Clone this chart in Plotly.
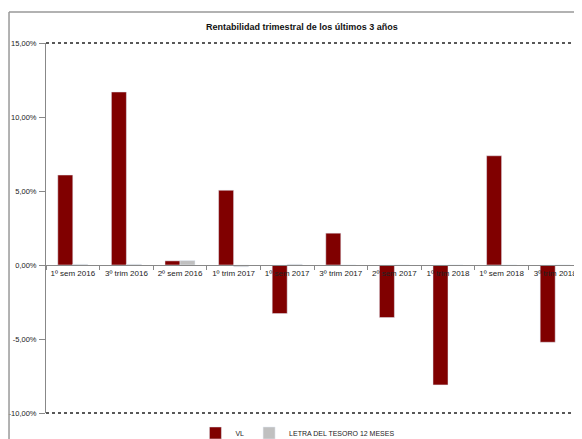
import plotly.graph_objects as go

categories = ["1º sem 2016", "3º trim 2016", "2º sem 2016", "1º trim 2017", "1º sem 2017",
              "3º trim 2017", "2º sem 2017", "1º trim 2018", "1º sem 2018", "3º trim 2018"]
vl = [6.08, 11.69, 0.28, 5.05, -3.28, 2.15, -3.55, -8.10, 7.38, -5.22]
letra = [0.05, 0.05, 0.30, -0.12, 0.05, 0.0, 0.0, 0.0, 0.0, 0.0]
y_ticks = [-10, -5, 0, 5, 10, 15]
y_tick_labels = ["-10,00%", "-5,00%", "0,00%", "5,00%", "10,00%", "15,00%"]

FONT = "Liberation Sans"

fig = go.Figure()
fig.add_trace(go.Bar(x=categories, y=vl, name="VL", marker_color="#800000"))
fig.add_trace(go.Bar(x=categories, y=letra, name="LETRA DEL TESORO 12 MESES", marker_color="#C0C0C0"))

y_min, y_max = -10, 15
zero_pos = (0 - y_min) / (y_max - y_min)

fig.update_layout(
    width=574, height=431,
    margin=dict(l=38, r=0, t=35, b=26, autoexpand=False),
    paper_bgcolor="white", plot_bgcolor="white",
    barmode="group", bargap=0.44, bargroupgap=0,
    font=dict(family=FONT, size=8, color="#222"),
    title=dict(text="<b>Rentabilidad trimestral de los últimos 3 años</b>", x=0.512, xanchor="center",
               y=0.956, yanchor="middle", font=dict(size=9, color="#111")),
    showlegend=True,
    legend=dict(orientation="h", x=0.47, xanchor="center", y=-0.054, yanchor="middle",
                font=dict(size=7, color="#222"), tracegroupgap=0),
    xaxis=dict(type="category", anchor="free", position=zero_pos, showline=True, linecolor="#888",
               linewidth=1, ticks="outside", tickson="boundaries", ticklen=4, tickcolor="#888",
               tickangle=0, showgrid=False, tickfont=dict(size=8, color="#222")),
    yaxis=dict(range=[y_min, y_max], tickvals=y_ticks, ticktext=y_tick_labels,
               showline=True, linecolor="#888", linewidth=1, ticks="outside", ticklen=6,
               tickcolor="#888", showgrid=False, zeroline=False, ticklabelstandoff=1,
               tickfont=dict(size=7.5, color="#222")),
    shapes=[
        dict(type="line", xref="paper", yref="paper", x0=0, x1=1, y0=1, y1=1,
             line=dict(color="#222", width=1.5, dash="dot")),
        dict(type="line", xref="paper", yref="paper", x0=0, x1=1, y0=0, y1=0,
             line=dict(color="#222", width=1.5, dash="dot")),
        dict(type="line", xref="paper", yref="paper", x0=-0.069, x1=1.1, y0=1.084, y1=1.084,
             line=dict(color="#999", width=1.5)),
        dict(type="line", xref="paper", yref="paper", x0=-0.069, x1=-0.069, y0=1.084, y1=-0.2,
             line=dict(color="#999", width=1.5)),
    ],
)

fig.write_html("out.html")
